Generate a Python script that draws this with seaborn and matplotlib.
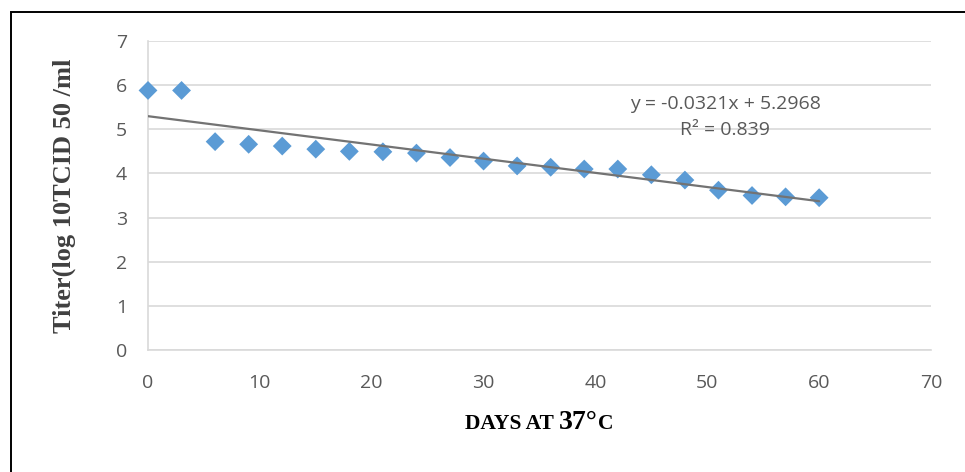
import matplotlib
matplotlib.use("Agg")
import matplotlib.pyplot as plt
import seaborn as sns
import pandas as pd
from matplotlib.patches import Rectangle

# Virus titer measured every 3 days of storage at 37 °C
days = [0, 3, 6, 9, 12, 15, 18, 21, 24, 27, 30, 33, 36, 39, 42, 45, 48, 51, 54, 57, 60]
titer = [5.88, 5.88, 4.72, 4.66, 4.62, 4.55, 4.50, 4.49, 4.46, 4.36, 4.28, 4.17,
         4.14, 4.10, 4.10, 3.97, 3.85, 3.62, 3.50, 3.47, 3.45]

# Linear trend reported for the series
slope = -0.0321
intercept = 5.2968
r_squared = 0.839

x_ticks = [0, 10, 20, 30, 40, 50, 60, 70]
y_ticks = [0, 1, 2, 3, 4, 5, 6, 7]

sns.set_theme(style="white")
plt.rcParams["font.family"] = ["Open Sans", "DejaVu Sans"]

W, H = 965, 472
fig = plt.figure(figsize=(W / 100, H / 100), dpi=100)
fig.patch.set_facecolor("white")

# plot area in pixel terms: x from 148 to 931, y from 41 (top) to 350 (bottom)
ax = fig.add_axes([148 / W, 1 - 350 / H, (931 - 148) / W, (350 - 41) / H])

df = pd.DataFrame({"days": days, "titer": titer})
trend = pd.DataFrame({"days": [min(days), max(days)]})
trend["titer"] = intercept + slope * trend["days"]

sns.scatterplot(data=df, x="days", y="titer", marker="D", s=92, color="#5B9BD5",
                edgecolor="none", linewidth=0, ax=ax, zorder=3, clip_on=False)
sns.lineplot(data=trend, x="days", y="titer", color="#737373", linewidth=1.6,
             ax=ax, zorder=4)

ax.set_xlim(0, 70)
ax.set_ylim(0, 7)
ax.set_xticks(x_ticks)
ax.set_yticks(y_ticks)
ax.set_xticklabels([str(t) for t in x_ticks])
ax.set_yticklabels([str(t) for t in y_ticks])
ax.set_xlabel("")
ax.set_ylabel("")

ax.grid(axis="y", color="#D9D9D9", linewidth=1.2)
ax.grid(axis="x", visible=False)
ax.set_axisbelow(True)
for side in ["top", "right"]:
    ax.spines[side].set_visible(False)
for side in ["left", "bottom"]:
    ax.spines[side].set_color("#D9D9D9")
    ax.spines[side].set_linewidth(1.2)

ax.tick_params(axis="both", length=0, labelsize=14, labelcolor="#595959")
ax.tick_params(axis="x", pad=17)
ax.tick_params(axis="y", pad=15)

# trendline equation
ax.text(725 / W, 1 - 109 / H, f"y = {slope}x + {intercept}",
        transform=fig.transFigure, ha="center", va="baseline",
        fontsize=14, color="#595959")
ax.text(725 / W, 1 - 135 / H, f"R\u00b2 = {r_squared}",
        transform=fig.transFigure, ha="center", va="baseline",
        fontsize=14, color="#595959")

# axis titles
serif = ["Liberation Serif", "DejaVu Serif"]
fig.text(64 / W, 1 - 195.5 / H, "Titer(log 10TCID 50 /ml", rotation=90,
         ha="center", va="center", family=serif, fontweight="bold",
         fontsize=19, color="#404040")

base_y = 1 - 428.7 / H
t1 = fig.text(465 / W, base_y, "DAYS AT ", ha="left", va="baseline",
              family=serif, fontweight="bold", fontsize=15.5, color="black")
t2 = fig.text(0, 0, "37\u00b0", ha="left", va="baseline", family=serif,
              fontweight="bold", fontsize=20, color="black")
t3 = fig.text(0, 0, "C", ha="left", va="baseline", family=serif,
              fontweight="bold", fontsize=15.5, color="black")
fig.canvas.draw()
r = fig.canvas.get_renderer()
t2.set_position((t1.get_window_extent(r).x1 / W, base_y))
fig.canvas.draw()
t3.set_position((t2.get_window_extent(r).x1 / W, base_y))

# outer frame (runs off the right and bottom edges)
fig.patches.append(Rectangle((11 / W, -0.1), 1.2, 1 - 12 / H + 0.1,
                             transform=fig.transFigure, fill=False,
                             edgecolor="black", linewidth=1.4, zorder=10))

fig.savefig("out.png", dpi=100)
